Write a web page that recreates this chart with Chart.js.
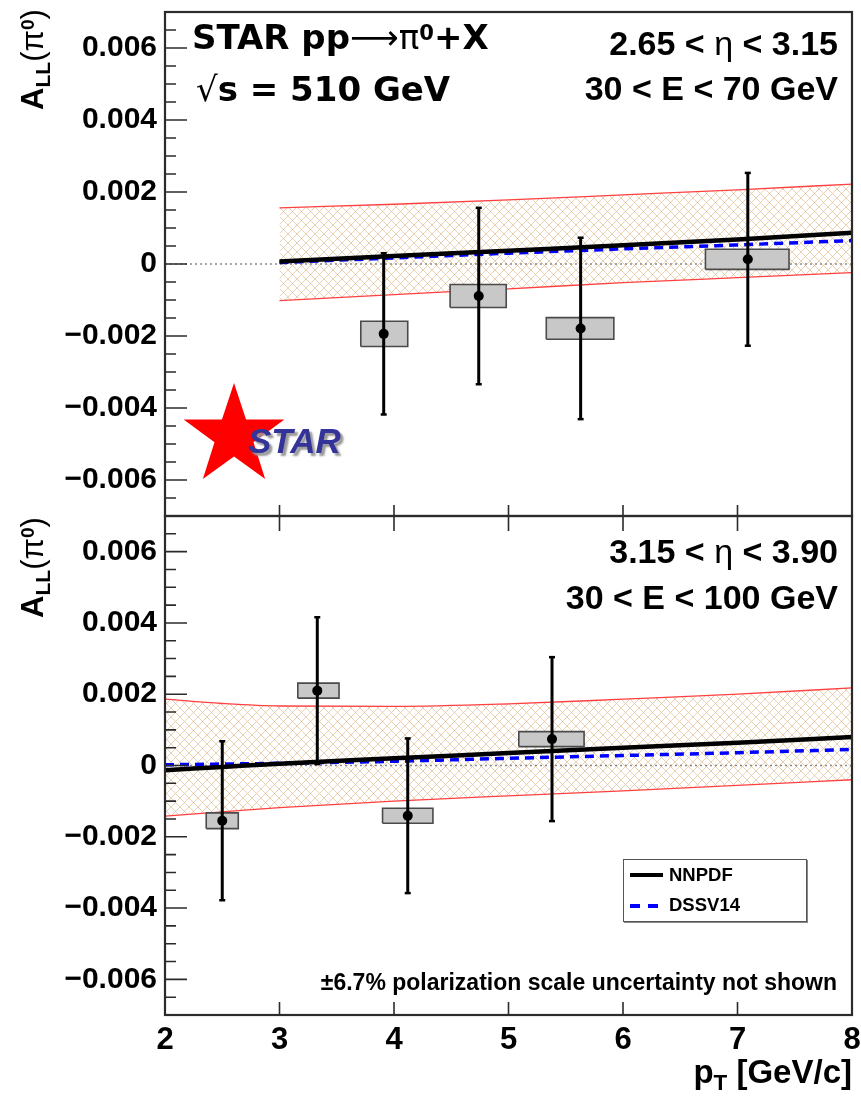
<!DOCTYPE html>
<html><head><meta charset="utf-8">
<script src="https://cdn.jsdelivr.net/npm/chart.js@4.4.0/dist/chart.umd.min.js"></script>
<style>
html,body{margin:0;padding:0;background:#fff;width:861px;height:1101px;overflow:hidden;position:relative;font-family:"Liberation Sans",Arial,Helvetica,sans-serif;}
canvas{position:absolute;left:0;}
.t{position:absolute;font-weight:bold;color:#000;white-space:nowrap;line-height:1;}
.sup{position:relative;top:-0.45em;font-size:0.62em;}
.sub{position:relative;top:0.32em;font-size:0.68em;}
.thin{font-weight:normal;}
</style></head><body>
<canvas id="top" width="861" height="520" style="top:0"></canvas>
<canvas id="bot" width="861" height="591" style="top:510px"></canvas>
<script>
// ---------------- data ----------------
const xTicks = [2, 3, 4, 5, 6, 7, 8];
const yTicks = [-0.006, -0.004, -0.002, 0, 0.002, 0.004, 0.006];

// Upper panel: 2.65 < eta < 3.15, 30 < E < 70 GeV
const topPt    = [3.91, 4.74, 5.63, 7.09];
const topALL   = [-0.00194, -0.00089, -0.00179, 0.00013];
const topStat  = [0.00224, 0.00245, 0.00252, 0.00240];
const topSys   = [0.00035, 0.00032, 0.00030, 0.00028];
const topPtLo  = [3.71, 4.49, 5.33, 6.72];
const topPtHi  = [4.12, 4.98, 5.92, 7.45];
const topThX     = [3, 4, 5, 6, 7, 8];
const topNNPDF   = [0.00007, 0.00022, 0.00037, 0.00052, 0.00068, 0.00087];
const topDSSV    = [0.00004, 0.00017, 0.00030, 0.00042, 0.00053, 0.00065];
const topBandHi  = [0.00156, 0.00166, 0.00178, 0.00192, 0.00206, 0.00222];
const topBandLo  = [-0.00102, -0.00085, -0.00069, -0.00052, -0.00038, -0.00024];

// Lower panel: 3.15 < eta < 3.90, 30 < E < 100 GeV
const botPt    = [2.50, 3.33, 4.12, 5.38];
const botALL   = [-0.00155, 0.00210, -0.00141, 0.00074];
const botStat  = [0.00223, 0.00206, 0.00217, 0.00230];
const botSys   = [0.00022, 0.00021, 0.00021, 0.00021];
const botPtLo  = [2.36, 3.16, 3.90, 5.09];
const botPtHi  = [2.64, 3.52, 4.34, 5.66];
const botThX     = [2, 2.5, 3, 4, 5, 6, 7, 8];
const botNNPDF   = [-0.00013, -0.00004, 0.00005, 0.00020, 0.00035, 0.00050, 0.00064, 0.00080];
const botDSSV    = [0.00002, 0.00004, 0.00006, 0.00012, 0.00020, 0.00028, 0.00036, 0.00045];
const botBandHi  = [0.00186, 0.00174, 0.00167, 0.00166, 0.00173, 0.00186, 0.00200, 0.00218];
const botBandLo  = [-0.00142, -0.00130, -0.00118, -0.00100, -0.00085, -0.00071, -0.00056, -0.00040];

// ---------------- helpers ----------------
const FONT = '"Liberation Sans", Arial, Helvetica, sans-serif';
const WIDE = '"DejaVu Sans", Verdana, sans-serif';

function hatch() {
  const n = 9;
  const c = document.createElement('canvas');
  c.width = n; c.height = n;
  const g = c.getContext('2d');
  g.strokeStyle = 'rgba(218,178,128,0.6)';
  g.lineWidth = 1;
  g.beginPath();
  g.moveTo(-2, -2); g.lineTo(n + 2, n + 2);
  g.moveTo(n + 2, -2); g.lineTo(-2, n + 2);
  g.stroke();
  return g.createPattern(c, 'repeat');
}
const xy = (xs, ys) => xs.map((x, i) => ({x, y: ys[i]}));

function buildDatasets(p) {
  const ds = [];
  ds.push({label: 'data', data: xy(p.pt, p.all), showLine: false, pointRadius: 5,
    pointBackgroundColor: '#000', pointBorderColor: '#000', pointBorderWidth: 0, order: 0});
  p.pt.forEach((x, i) => {
    ds.push({label: 'stat', data: [{x, y: p.all[i] - p.stat[i]}, {x, y: p.all[i] + p.stat[i]}],
      showLine: true, borderColor: '#000', borderWidth: 3, pointStyle: 'line', pointRadius: 3,
      pointBorderColor: '#000', pointBorderWidth: 2.5, order: 1});
  });
  p.pt.forEach((x, i) => {
    const lo = p.all[i] - p.sys[i], hi = p.all[i] + p.sys[i];
    ds.push({label: 'sys', data: [{x: p.lo[i], y: lo}, {x: p.hi[i], y: lo}, {x: p.hi[i], y: hi},
      {x: p.lo[i], y: hi}, {x: p.lo[i], y: lo}], showLine: true, fill: 'shape',
      backgroundColor: '#c8c8c8', borderColor: '#4a4a4a', borderWidth: 1.6, pointRadius: 0, order: 2});
  });
  ds.push({label: 'NNPDF', data: xy(p.thx, p.nn), showLine: true, borderColor: '#000', borderWidth: 4.5,
    pointRadius: 0, cubicInterpolationMode: 'monotone', order: 3});
  ds.push({label: 'DSSV14', data: xy(p.thx, p.ds), showLine: true, borderColor: '#0000ff', borderWidth: 3.5,
    borderDash: [9, 6], pointRadius: 0, cubicInterpolationMode: 'monotone', order: 4});
  ds.push({label: 'zero', data: [{x: 2, y: 0}, {x: 8, y: 0}], showLine: true, borderColor: '#8a8a8a',
    borderWidth: 1.3, borderDash: [2, 3], pointRadius: 0, order: 5});
  const loIdx = ds.length;
  ds.push({label: 'bandLo', data: xy(p.thx, p.blo), showLine: true, borderColor: '#ff4040', borderWidth: 1.3,
    pointRadius: 0, cubicInterpolationMode: 'monotone', order: 6});
  ds.push({label: 'bandHi', data: xy(p.thx, p.bhi), showLine: true, borderColor: '#ff4040', borderWidth: 1.3,
    pointRadius: 0, cubicInterpolationMode: 'monotone', fill: loIdx, backgroundColor: hatch(), order: 7});
  return ds;
}

const framePlugin = {
  id: 'frame',
  afterDatasetsDraw(chart, args, o) {
    const {ctx, chartArea: a, scales: {x, y}} = chart;
    ctx.save();
    ctx.strokeStyle = '#2b2b2b';
    ctx.lineWidth = 1.6;
    ctx.beginPath();
    for (let k = -14; k <= 14; k++) {
      const v = k * 0.0005;
      const py = y.getPixelForValue(v);
      if (py <= a.top + 1 || py >= a.bottom - 1) continue;
      const len = (k % 4 === 0) ? 22 : 11;
      ctx.moveTo(a.left, py); ctx.lineTo(a.left + len, py);
    }
    xTicks.forEach(v => {
      const px = x.getPixelForValue(v);
      if (px <= a.left + 1 || px >= a.right - 1) return;
      if (o.bottomLen) { ctx.moveTo(px, a.bottom); ctx.lineTo(px, a.bottom - o.bottomLen); }
      if (o.topLen) { ctx.moveTo(px, a.top); ctx.lineTo(px, a.top + o.topLen); }
    });
    ctx.stroke();
    ctx.lineWidth = 2.2;
    ctx.strokeRect(a.left, a.top, a.right - a.left, a.bottom - a.top);
    if (o.logo) {
      const cx = a.left + 69, cy = a.top + 424, R = 53, r = 20.5;
      ctx.fillStyle = '#ff0000';
      ctx.beginPath();
      for (let i = 0; i < 10; i++) {
        const ang = -Math.PI / 2 + i * Math.PI / 5;
        const rr = i % 2 === 0 ? R : r;
        const px = cx + rr * Math.cos(ang), py = cy + rr * Math.sin(ang);
        i === 0 ? ctx.moveTo(px, py) : ctx.lineTo(px, py);
      }
      ctx.closePath(); ctx.fill();
    }
    ctx.restore();
  }
};

function fmt(v) {
  if (Math.abs(v) < 1e-12) return '0';
  return (v < 0 ? '\u2212' : '') + Math.abs(v).toFixed(3);
}
function noPad(s) { s.paddingTop = 0; s.paddingBottom = 0; s.paddingLeft = 0; s.paddingRight = 0; }

function makeChart(id, datasets, cfg) {
  return new Chart(document.getElementById(id), {
    type: 'line',
    data: {datasets},
    options: {
      responsive: false, animation: false, events: [],
      layout: {padding: cfg.padding, autoPadding: false},
      plugins: {legend: {display: false}, tooltip: {enabled: false}, frame: cfg.frame},
      scales: {
        x: {type: 'linear', min: 2, max: 8, display: cfg.showX,
          afterBuildTicks: s => { s.ticks = xTicks.map(v => ({value: v})); },
          afterFit: s => { s.height = cfg.xHeight; noPad(s); },
          grid: {display: false, drawTicks: false}, border: {display: false},
          ticks: {font: {family: FONT, size: 31, weight: 'bold'}, color: '#000', padding: 7,
            maxRotation: 0, autoSkip: false}},
        y: {type: 'linear', min: -0.007, max: 0.007,
          afterBuildTicks: s => { s.ticks = yTicks.map(v => ({value: v})); },
          afterFit: s => { s.width = 165; noPad(s); },
          grid: {display: false, drawTicks: false}, border: {display: false},
          ticks: {font: {family: FONT, size: 30, weight: 'bold'}, color: '#000', padding: 8,
            autoSkip: false, callback: v => fmt(v)}}
      }
    },
    plugins: [framePlugin]
  });
}

const cTop = makeChart('top', buildDatasets({pt: topPt, all: topALL, stat: topStat, sys: topSys, lo: topPtLo, hi: topPtHi,
  thx: topThX, nn: topNNPDF, ds: topDSSV, bhi: topBandHi, blo: topBandLo}),
  {padding: {left: 0, right: 9, top: 12, bottom: 4}, showX: false, xHeight: 0,
   frame: {bottomLen: 11, topLen: 0, logo: true}});

const cBot = makeChart('bot', buildDatasets({pt: botPt, all: botALL, stat: botStat, sys: botSys, lo: botPtLo, hi: botPtHi,
  thx: botThX, nn: botNNPDF, ds: botDSSV, bhi: botBandHi, blo: botBandLo}),
  {padding: {left: 0, right: 9, top: 6, bottom: 0}, showX: true, xHeight: 86,
   frame: {bottomLen: 13, topLen: 15, logo: false}});

// ---------------- text ----------------
function label(html, o) {
  const d = document.createElement('div');
  d.className = 't';
  d.innerHTML = html;
  const fs = o.size;
  d.style.fontSize = fs + 'px';
  if (o.family) d.style.fontFamily = o.family;
  if (o.color) d.style.color = o.color;
  if (o.css) Object.assign(d.style, o.css);
  if (o.rotate) {
    d.style.left = (o.baseX - 0.846 * fs) + 'px';
    d.style.top = o.startY + 'px';
    d.style.transformOrigin = '0 0';
    d.style.transform = 'rotate(-90deg)';
  } else {
    d.style.top = (o.base - 0.846 * fs) + 'px';
    if (o.left != null) d.style.left = o.left + 'px';
    else d.style.right = (861 - o.right) + 'px';
  }
  document.body.appendChild(d);
  return d;
}

label('STAR pp<span class="thin">\u27f6\u03c0</span><span class="sup">0</span>+X', {left: 192, base: 49, size: 34, family: WIDE});
label('<span class="thin">\u221a</span>s = 510 GeV', {left: 196, base: 101, size: 34, family: WIDE});
label('2.65 &lt; <span class="thin">\u03b7</span> &lt; 3.15', {right: 838, base: 55, size: 34});
label('30 &lt; E &lt; 70 GeV', {right: 838, base: 100, size: 34});
label('3.15 &lt; <span class="thin">\u03b7</span> &lt; 3.90', {right: 838, base: 563, size: 34});
label('30 &lt; E &lt; 100 GeV', {right: 838, base: 609, size: 34});
label('\u00b16.7% polarization scale uncertainty not shown', {right: 837, base: 990, size: 23});
label('A<span class="sub">LL</span><span class="thin">(\u03c0</span><span class="sup">0</span><span class="thin">)</span>', {rotate: true, baseX: 43, startY: 110, size: 31});
label('A<span class="sub">LL</span><span class="thin">(\u03c0</span><span class="sup">0</span><span class="thin">)</span>', {rotate: true, baseX: 43, startY: 618, size: 31});
label('p<span class="sub">T</span> [GeV/c]', {right: 852, base: 1083, size: 33});
label('STAR', {left: 248, base: 453, size: 35, color: '#333399', css: {fontStyle: 'italic', textShadow: '3px 3px 2px #9a9a9a'}});

// legend
const lg = document.createElement('div');
Object.assign(lg.style, {position: 'absolute', left: '623px', top: '859px', width: '182px', height: '61px',
  border: '1.5px solid #555', background: '#fff', boxShadow: '1px 1px 0 #888'});
document.body.appendChild(lg);
function seg(l, t, w, h, c) {
  const s = document.createElement('div');
  Object.assign(s.style, {position: 'absolute', left: l + 'px', top: t + 'px', width: w + 'px', height: h + 'px', background: c});
  document.body.appendChild(s);
}
seg(630, 873, 33, 4, '#000');
seg(630, 904, 10, 3.5, '#0000ff');
seg(648, 904, 10, 3.5, '#0000ff');
label('NNPDF', {left: 669, base: 882, size: 18.5});
label('DSSV14', {left: 669, base: 912, size: 18.5});
</script>
</body></html>
